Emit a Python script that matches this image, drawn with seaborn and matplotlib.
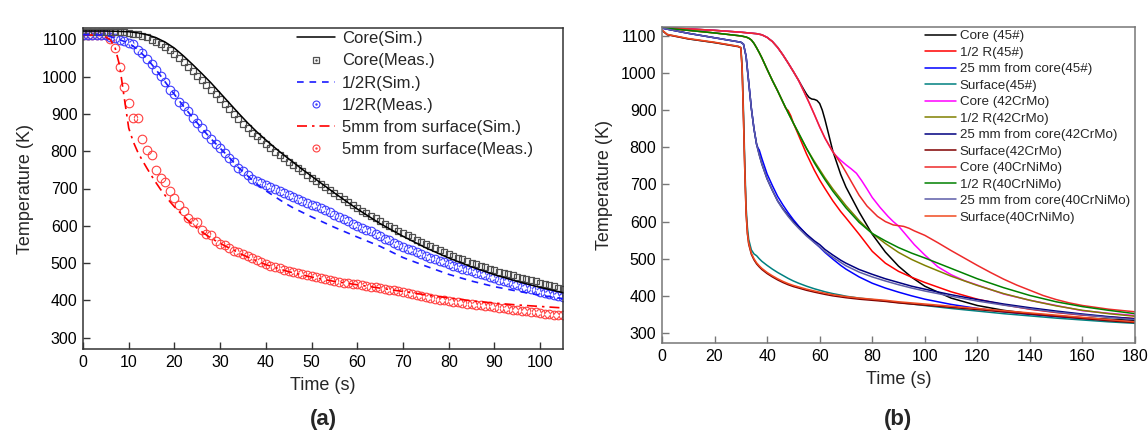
import matplotlib
matplotlib.use("Agg")
import matplotlib.pyplot as plt
import seaborn as sns
from matplotlib.lines import Line2D

sns.set_theme(style="white")
plt.rcParams["font.family"] = ["Liberation Sans", "DejaVu Sans"]

# ---------------- panel (a) data ----------------
time_meas = list(range(0, 106))

core_meas = [1120, 1120, 1120, 1120, 1120, 1120, 1120, 1120, 1120, 1118,
             1117, 1115, 1113, 1109, 1105, 1099, 1093, 1087, 1079, 1071,
             1061, 1050, 1039, 1026, 1015, 1002, 990, 978, 965, 953,
             940, 926, 912, 899, 886, 872, 861, 850, 840, 829,
             818, 809, 799, 790, 781, 772, 763, 754, 746, 737,
             729, 720, 712, 703, 695, 687, 679, 671, 663, 655,
             648, 641, 634, 627, 620, 613, 606, 600, 593, 587,
             581, 575, 569, 563, 557, 551, 545, 540, 535, 530,
             525, 520, 515, 510, 505, 501, 497, 493, 489, 485,
             481, 477, 474, 470, 467, 463, 460, 457, 454, 451,
             448, 445, 442, 439, 434, 430]

half_meas = [1112, 1112, 1112, 1112, 1112, 1111, 1106, 1102, 1097, 1094,
             1090, 1086, 1072, 1062, 1048, 1033, 1018, 1001, 985, 965,
             952, 933, 920, 908, 890, 875, 861, 846, 833, 820,
             808, 796, 783, 770, 756, 746, 735, 726, 719, 714,
             710, 705, 699, 693, 687, 682, 677, 672, 667, 661,
             657, 652, 647, 642, 636, 630, 624, 618, 612, 606,
             600, 595, 590, 585, 578, 572, 566, 561, 555, 548,
             542, 538, 534, 530, 525, 520, 515, 511, 506, 502,
             497, 493, 489, 485, 482, 478, 474, 470, 467, 463,
             459, 455, 452, 449, 445, 441, 437, 434, 430, 427,
             424, 421, 418, 414, 411, 408]

surf_meas = [1112, 1112, 1112, 1112, 1112, 1110, 1100, 1076, 1025, 972,
             929, 890, 890, 833, 804, 790, 750, 727, 717, 694,
             674, 657, 641, 622, 609, 609, 588, 577, 575, 559,
             550, 548, 540, 532, 529, 524, 519, 514, 508, 502,
             497, 492, 489, 486, 482, 479, 476, 474, 470, 467,
             465, 462, 460, 457, 455, 452, 450, 448, 446, 445,
             443, 441, 439, 437, 435, 433, 431, 429, 427, 425,
             424, 421, 418, 416, 413, 410, 407, 405, 402, 400,
             398, 397, 395, 393, 391, 390, 388, 387, 386, 385,
             383, 381, 379, 377, 375, 374, 373, 371, 369, 368,
             366, 365, 364, 362, 361, 360]

sim_t = [0, 5, 10, 12, 14, 16, 18, 20, 22, 24, 26, 28, 30, 32, 34, 36, 38,
         40, 42, 44, 46, 48, 50, 55, 60, 65, 70, 75, 80, 85, 90, 95, 100, 105]
core_sim = [1122, 1122, 1120, 1117, 1112, 1104, 1092, 1076, 1055, 1032, 1008,
            983, 956, 929, 902, 876, 852, 830, 809, 789, 770, 751, 733, 688,
            645, 606, 572, 541, 514, 490, 469, 451, 435, 421]
half_sim = [1112, 1111, 1090, 1072, 1048, 1018, 985, 952, 920, 890, 861,
            833, 808, 783, 756, 734, 712, 694, 678, 662, 648, 636, 624, 596,
            570, 545, 515, 492, 470, 452, 437, 425, 414, 405]

surf_sim_t = [0, 4, 5, 6, 7, 8, 9, 10, 11, 12, 13, 14, 15, 16, 17, 18, 19, 20,
              22, 24, 26, 28, 30, 35, 40, 45, 50, 55, 60, 65, 70, 75, 80, 85,
              90, 95, 100, 105]
surf_sim = [1112, 1110, 1106, 1098, 1078, 1030, 945, 862, 825, 797, 775, 754,
            734, 715, 697, 681, 665, 651, 626, 603, 584, 567, 553, 522, 496,
            477, 463, 451, 442, 433, 424, 415, 407, 399, 393, 388, 384, 380]

# ---------------- panel (b) data ----------------
core45_t = [0, 10, 20, 30, 36, 38, 40, 42, 44, 46, 48, 50, 52, 54, 55, 56, 57,
            58, 59, 60, 61, 62, 63, 65, 68, 70, 75, 80, 85, 90, 95, 100, 110,
            120, 130, 140, 150, 160, 170, 180]
core45_k = [1122, 1119, 1115, 1110, 1106, 1103, 1096, 1085, 1069, 1049, 1027,
            1004, 980, 955, 943, 934, 930, 929, 926, 918, 900, 875, 847, 790,
            727, 693, 626, 566, 518, 480, 450, 426, 394, 374, 361, 352, 346,
            341, 337, 334]

core_early_t = [0, 10, 20, 30, 36, 38, 40, 42, 44, 46, 48, 50, 52, 54, 56, 58,
                60, 62, 64, 65]
core_early_k = [1122, 1119, 1115, 1110, 1106, 1103, 1096, 1085, 1069, 1049,
                1027, 1004, 980, 950, 920, 888, 855, 825, 800, 788]
core42_tail_t = [66, 68, 70, 72, 74, 76, 78, 80, 83, 86, 88, 90, 93, 96, 100,
                 105, 110, 115, 120, 130, 140, 150, 160, 170, 180]
core42_tail_k = [779, 765, 753, 742, 730, 710, 688, 665, 638, 614, 600, 588,
                 563, 538, 510, 478, 457, 441, 429, 405, 388, 374, 360, 353, 347]
core40_tail_t = [66, 68, 70, 72, 75, 78, 80, 82, 85, 88, 90, 92, 94, 96, 100,
                 105, 110, 115, 120, 125, 130, 135, 140, 145, 150, 155, 160,
                 170, 180]
core40_tail_k = [778, 757, 733, 708, 671, 642, 628, 614, 600, 591, 589, 587,
                 582, 575, 563, 543, 522, 502, 482, 463, 445, 429, 415, 401,
                 390, 381, 374, 364, 357]

half_early_t = [0, 10, 20, 30, 32, 33, 34, 35, 36, 37, 38, 40, 42, 44, 46]
half_early_k = [1122, 1115, 1108, 1100, 1097, 1094, 1089, 1080, 1068, 1055,
                1041, 1010, 980, 952, 922]
half_tail_t = [48, 50, 52, 55, 58, 60, 62, 65, 68, 70, 75, 80, 85, 90, 95, 100,
               110, 120, 130, 140, 150, 160, 170, 180]
half40_tail_k = [893, 865, 838, 797, 758, 735, 713, 682, 655, 637, 598, 568,
                 548, 530, 515, 502, 474, 446, 422, 401, 384, 371, 361, 352]
half42_tail_k = [893, 865, 838, 797, 762, 740, 718, 688, 661, 643, 603, 568,
                 541, 517, 498, 482, 453, 428, 406, 388, 373, 361, 352, 345]
half45_tail_t = [47, 48, 49, 50, 52, 55, 58, 60, 62, 65, 68, 70, 75, 80, 85,
                 90, 95, 100, 110, 120, 130, 140, 150, 160, 170, 180]
half45_tail_k = [906, 899, 885, 865, 832, 782, 738, 712, 689, 656, 627, 610,
                 566, 520, 488, 466, 450, 436, 411, 391, 376, 364, 355, 348,
                 343, 339]

mm25_early_t = [0, 10, 20, 30, 31, 32, 33, 34, 35, 36]
mm25_early_k = [1121, 1107, 1095, 1083, 1078, 1045, 975, 905, 850, 808]
mm25_tail_t = [37, 38, 40, 42, 44, 46, 48, 50, 52, 55, 58, 60, 62, 65, 68, 70,
               75, 80, 85, 90, 95, 100, 110, 120, 130, 140, 150, 160, 170, 180]
mm25_42_tail_k = [780, 755, 715, 684, 656, 635, 617, 600, 586, 566, 548, 538,
                  525, 510, 496, 488, 471, 458, 446, 436, 426, 418, 403, 390,
                  378, 368, 359, 351, 344, 338]
mm25_40_tail_k = [780, 755, 715, 684, 655, 633, 614, 597, 582, 561, 543, 532,
                  519, 504, 490, 481, 464, 451, 440, 430, 421, 413, 399, 386,
                  375, 365, 356, 349, 342, 336]
mm25_45_tail_t = [36.6, 37, 38, 40, 42, 44, 46, 48, 50, 52, 55, 58, 60, 62, 65,
                  68, 70, 75, 80, 85, 90, 95, 100, 110, 120, 130, 140, 150,
                  160, 170, 180]
mm25_45_tail_k = [797, 793, 770, 728, 697, 668, 645, 624, 605, 588, 565, 544,
                  531, 517, 499, 482, 472, 451, 434, 421, 410, 400, 391, 377,
                  366, 357, 350, 344, 339, 334, 330]

surf_t = [0, 2, 10, 20, 29, 30, 30.5, 31, 31.5, 32, 32.5, 33, 34, 35, 36, 37,
          38, 40, 42, 44, 46, 48, 50, 52, 55, 58, 60, 62, 65, 68, 70, 75, 80,
          85, 90, 95, 100, 110, 120, 130, 140, 150, 160, 170, 180]
surf45_k = [1115, 1104, 1092, 1082, 1072, 1068, 1020, 900, 760, 640, 585, 552,
            524, 513, 508, 500, 493, 482, 472, 463, 455, 447, 440, 434, 426,
            419, 415, 411, 406, 402, 399, 394, 390, 386, 382, 378, 374, 366,
            359, 352, 346, 340, 335, 330, 326]
surf42_k = [1115, 1103, 1092, 1082, 1071, 1068, 1008, 878, 738, 622, 567, 539,
            512, 497, 486, 478, 471, 460, 451, 443, 436, 430, 425, 421, 415,
            410, 407, 404, 400, 397, 395, 391, 388, 385, 381, 378, 375, 369,
            363, 357, 351, 345, 339, 333, 328]
surf40_k = [1116, 1104, 1093, 1083, 1072, 1069, 1010, 880, 740, 625, 570, 542,
            515, 500, 489, 481, 474, 463, 454, 446, 439, 433, 428, 424, 418,
            413, 410, 407, 403, 400, 398, 394, 391, 388, 384, 381, 378, 372,
            366, 360, 354, 348, 342, 336, 330]

labels_b = ["Core (45#)", "1/2 R(45#)", "25 mm from core(45#)", "Surface(45#)",
            "Core (42CrMo)", "1/2 R(42CrMo)", "25 mm from core(42CrMo)",
            "Surface(42CrMo)", "Core (40CrNiMo)", "1/2 R(40CrNiMo)",
            "25 mm from core(40CrNiMo)", "Surface(40CrNiMo)"]
colors_b = ["#000000", "#ff0000", "#0000ff", "#008080",
            "#ff00ff", "#808000", "#000080", "#800000",
            "#ee2a2a", "#008000", "#5c5ca8", "#f04a20"]

curves_b = [
    (core45_t, core45_k),
    (half_early_t + half45_tail_t, half_early_k + half45_tail_k),
    (mm25_early_t + mm25_45_tail_t, mm25_early_k + mm25_45_tail_k),
    (surf_t, surf45_k),
    (core_early_t + core42_tail_t, core_early_k + core42_tail_k),
    (half_early_t + half_tail_t, half_early_k + half42_tail_k),
    (mm25_early_t + mm25_tail_t, mm25_early_k + mm25_42_tail_k),
    (surf_t, surf42_k),
    (core_early_t + core40_tail_t, core_early_k + core40_tail_k),
    (half_early_t + half_tail_t, half_early_k + half40_tail_k),
    (mm25_early_t + mm25_tail_t, mm25_early_k + mm25_40_tail_k),
    (surf_t, surf40_k),
]

# ---------------- figure ----------------
W, H = 1148, 442
fig = plt.figure(figsize=(W / 100, H / 100), dpi=100)
fig.patch.set_facecolor("white")
axA = fig.add_axes([83 / W, 1 - 349 / H, 480 / W, 321 / H])
axB = fig.add_axes([662 / W, 1 - 343 / H, 473 / W, 316 / H])

# panel (a)
c_sq, c_bl, c_rd = "#505050", "#3c3cff", "#ff4040"
sns.lineplot(x=time_meas, y=surf_meas, ax=axA, estimator=None, sort=False,
             linestyle="", marker="o", markersize=6.2, markerfacecolor="none",
             markeredgecolor=c_rd, markeredgewidth=0.8, zorder=2)
sns.lineplot(x=time_meas, y=surf_meas, ax=axA, estimator=None, sort=False,
             linestyle="", marker=".", markersize=1.3, color=c_rd, zorder=2)
sns.lineplot(x=surf_sim_t, y=surf_sim, ax=axA, estimator=None, sort=False,
             color="#ff0000", lw=1.2, linestyle=(0, (6, 3, 1.5, 3)), zorder=3)
sns.lineplot(x=time_meas, y=half_meas, ax=axA, estimator=None, sort=False,
             linestyle="", marker="o", markersize=6.2, markerfacecolor="none",
             markeredgecolor=c_bl, markeredgewidth=0.8, zorder=2)
sns.lineplot(x=time_meas, y=half_meas, ax=axA, estimator=None, sort=False,
             linestyle="", marker=".", markersize=1.3, color=c_bl, zorder=2)
sns.lineplot(x=sim_t, y=half_sim, ax=axA, estimator=None, sort=False,
             color="#1a1aff", lw=1.2, linestyle=(0, (4, 3.5)), zorder=3)
sns.lineplot(x=time_meas, y=core_meas, ax=axA, estimator=None, sort=False,
             linestyle="", marker="s", markersize=5, markerfacecolor="none",
             markeredgecolor=c_sq, markeredgewidth=0.9, zorder=2)
sns.lineplot(x=sim_t, y=core_sim, ax=axA, estimator=None, sort=False,
             color="black", lw=1.1, zorder=3)

axA.set_xlim(0, 105)
axA.set_ylim(270, 1130)
axA.set_xticks(list(range(0, 101, 10)))
axA.set_yticks(list(range(300, 1101, 100)))

h_a = [
    Line2D([], [], color="black", lw=1.1),
    (Line2D([], [], ls="", marker="s", ms=4.5, mfc="none", mec=c_sq, mew=0.9),
     Line2D([], [], ls="", marker=".", ms=1.5, color=c_sq)),
    Line2D([], [], color="#1a1aff", lw=1.2, ls=(0, (4, 3.5))),
    (Line2D([], [], ls="", marker="o", ms=5, mfc="none", mec=c_bl, mew=0.8),
     Line2D([], [], ls="", marker=".", ms=1.5, color=c_bl)),
    Line2D([], [], color="#ff0000", lw=1.2, ls=(0, (6, 3, 1.5, 3))),
    (Line2D([], [], ls="", marker="o", ms=5, mfc="none", mec=c_rd, mew=0.8),
     Line2D([], [], ls="", marker=".", ms=1.5, color=c_rd)),
]
l_a = ["Core(Sim.)", "Core(Meas.)", "1/2R(Sim.)", "1/2R(Meas.)",
       "5mm from surface(Sim.)", "5mm from surface(Meas.)"]
axA.legend(h_a, l_a, loc="upper left", bbox_to_anchor=(0.446, 0.99),
           frameon=False, fontsize=12, handlelength=2.3, handletextpad=0.4,
           labelspacing=0.43, borderpad=0, borderaxespad=0, numpoints=1)

# panel (b)
for (tt, kk), lab, col in zip(curves_b, labels_b, colors_b):
    sns.lineplot(x=tt, y=kk, ax=axB, estimator=None, sort=False,
                 color=col, lw=1.1, label=lab)
axB.set_xlim(0, 180)
axB.set_ylim(273, 1124)
axB.set_xticks(list(range(0, 181, 20)))
axB.set_yticks(list(range(300, 1101, 100)))
axB.legend(loc="upper left", bbox_to_anchor=(0.556, 0.99), frameon=False,
           fontsize=9.6, handlelength=2.3, handletextpad=0.3,
           labelspacing=0.31, borderpad=0, borderaxespad=0)

for ax, sc in ((axA, "#333333"), (axB, "#777777")):
    for s in ax.spines.values():
        s.set_visible(True)
        s.set_color(sc)
        s.set_linewidth(1.1)
    ax.tick_params(direction="in", length=5, width=1, color=sc,
                   labelsize=11.5, pad=4, labelcolor="black",
                   bottom=True, left=True, top=False, right=False)
    ax.set_xlabel("Time (s)", fontsize=13, labelpad=5)
    ax.set_ylabel("Temperature (K)", fontsize=13, labelpad=6)
    ax.grid(False)
    ax.set_facecolor("white")

fig.text(323 / W, 1 - 420 / H, "(a)", ha="center", va="center",
         fontsize=16, fontweight="bold")
fig.text(898 / W, 1 - 420 / H, "(b)", ha="center", va="center",
         fontsize=16, fontweight="bold")

fig.savefig("out.png", dpi=100, facecolor="white")
